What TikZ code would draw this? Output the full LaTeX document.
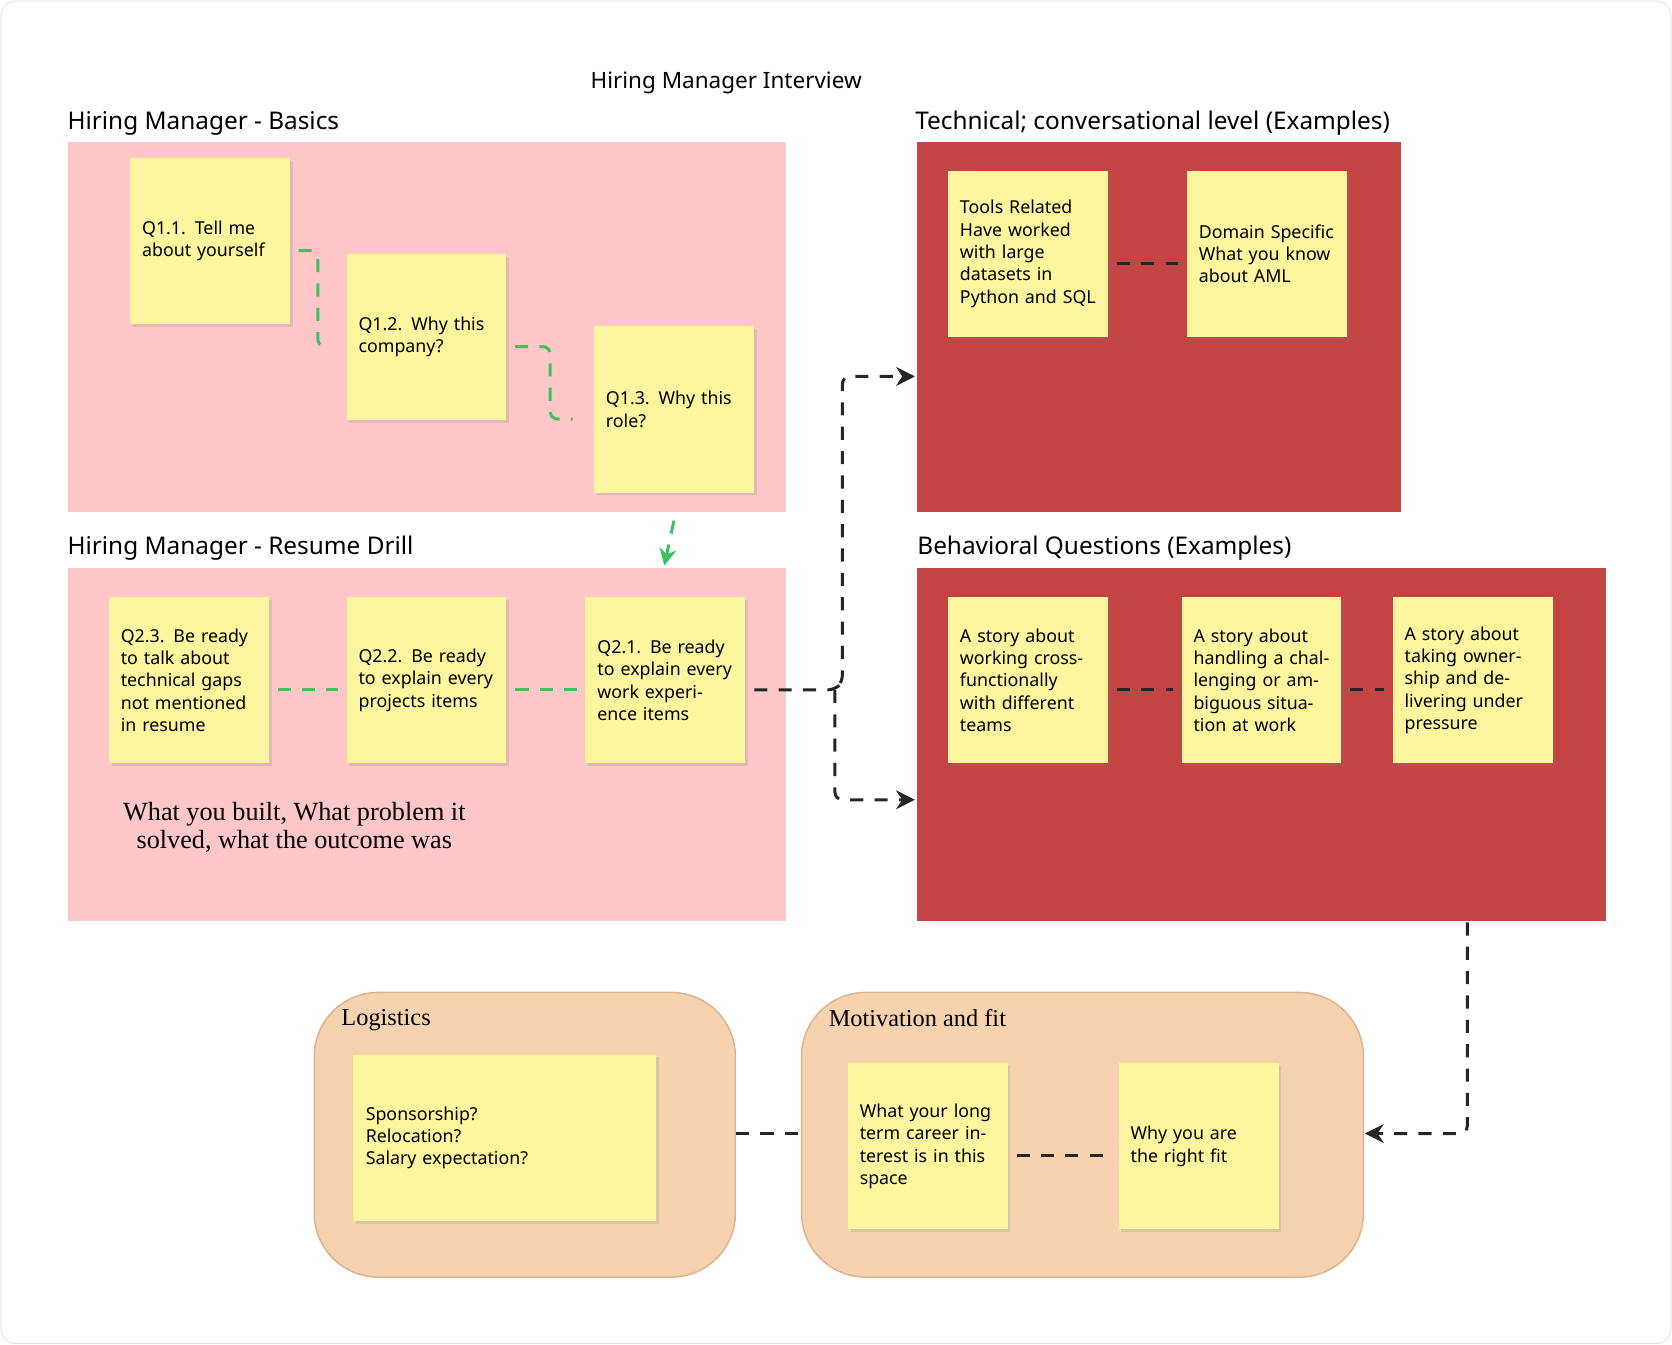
\documentclass[tikz,border=0pt]{standalone}
\usepackage{fontspec}
\setmainfont{Noto Sans}
\newfontfamily\serifnote{Liberation Serif}
\usetikzlibrary{calc,shadows,arrows.meta}
\definecolor{pinkframe}{HTML}{FFC7C7}
\definecolor{redframe}{HTML}{C44343}
\definecolor{sticky}{HTML}{FEF59F}
\definecolor{peach}{HTML}{F6D3AE}
\definecolor{peachline}{HTML}{DDB48E}
\definecolor{greenlink}{HTML}{3CC060}
\tikzset{
  note/.style = {fill = sticky, minimum width = 3cm, minimum height = 3.12cm,
                 text width = 2.55cm, align = left, font = \fontsize{9.5}{11.9}\selectfont,
                 drop shadow = {opacity = 0.2, shadow xshift = 1.5pt, shadow yshift = -1.5pt}},
  frame/.style = {anchor = north west, inner sep = 0pt},
  framelabel/.style = {anchor = south west, inner sep = 0pt, font = \fontsize{13}{15}\selectfont},
  group/.style = {draw = peachline, fill = peach, rounded corners = 1.2cm, line width = 0.8pt,
                  anchor = north west, inner sep = 0pt},
  greendash/.style = {draw = greenlink, dashed, line width = 1.6pt, dash pattern = on 7pt off 6pt, rounded corners = 4pt},
  blackdash/.style = {draw = black!85, line width = 1.6pt, dash pattern = on 7pt off 6pt, rounded corners = 4pt}
}
\begin{document}
\begin{tikzpicture}[x = 0.02cm, y = -0.02cm]
  \useasboundingbox (0, 0) rectangle (1568, 1261);
  \draw[black!12, rounded corners = 8pt] (1, 1) rectangle (1567, 1260);
  \node[font = \bfseries\fontsize{12}{14}\selectfont] (title) at (681, 78) {Hiring Manager Interview};

  % frames
  \node[frame, fill = pinkframe, minimum width = 13.48cm, minimum height = 6.94cm] (basics) at (63, 133) {};
  \node[framelabel] (basicslbl) at (63, 127) {Hiring Manager - Basics};
  \node[frame, fill = pinkframe, minimum width = 13.48cm, minimum height = 6.62cm] (resume) at (63, 532) {};
  \node[framelabel] (resumelbl) at (63, 526) {Hiring Manager - Resume Drill};
  \node[frame, fill = redframe, minimum width = 9.08cm, minimum height = 6.94cm] (tech) at (860, 133) {};
  \node[framelabel] (techlbl) at (858, 127) {Technical; conversational level (Examples)};
  \node[frame, fill = redframe, minimum width = 12.92cm, minimum height = 6.62cm] (behav) at (860, 532) {};
  \node[framelabel] (behavlbl) at (860, 526) {Behavioral Questions (Examples)};
  \node[group, minimum width = 7.9cm, minimum height = 5.34cm] (logis) at (294, 930) {};
  \node[anchor = north west, font = \serifnote\fontsize{13}{15}\selectfont] (logislbl) at (314, 940) {Logistics};
  \node[group, minimum width = 10.54cm, minimum height = 5.34cm] (motiv) at (751, 930) {};
  \node[anchor = north west, font = \serifnote\fontsize{13}{15}\selectfont] (motivlbl) at (771, 940) {Motivation and fit};

  % basics notes
  \node[note] (q11) at (197, 226) {Q1.1. Tell me about yourself};
  \node[note] (q12) at (400, 316) {Q1.2. Why this company?};
  \node[note] (q13) at (632, 384) {Q1.3. Why this role?};
  \draw[greendash] (280, 235) -- (298, 235) -- (298, 325) -- (308, 325);
  \draw[greendash] (483, 325) -- (516, 325) -- (516, 393) -- (537, 393);
  \draw[greendash, -{Stealth[length = 9pt, width = 9pt]}] ($(q13.south)+(0, 26)$) -- ($(q13.south)+(-9, 68)$);

  % resume notes
  \node[note] (q23) at (177, 638) {Q2.3. Be ready to talk about technical gaps not mentioned in resume};
  \node[note] (q22) at (400, 638) {Q2.2. Be ready to explain every projects items};
  \node[note] (q21) at (624, 638) {Q2.1. Be ready to explain every work experience items};
  \draw[greendash] ($(q23.east)+(8, 9)$) -- ($(q22.west)+(-8, 9)$);
  \draw[greendash] ($(q22.east)+(8, 9)$) -- ($(q21.west)+(-8, 9)$);
  \node[align = center, font = \serifnote\fontsize{14}{15}\selectfont] (built) at (276, 776)
    {What you built, What problem it\\solved, what the outcome was};

  % technical notes
  \node[note] (tools) at (964, 238) {\textbf{Tools Related}\\Have worked with large datasets in Python and SQL};
  \node[note] (domain) at (1188, 238) {\textbf{Domain Specific}\\What you know about AML};
  \draw[blackdash] ($(tools.east)+(8, 9)$) -- ($(domain.west)+(-8, 9)$);

  % behavioral notes
  \node[note] (b1) at (964, 638) {A story about working cross-functionally with different teams};
  \node[note] (b2) at (1183, 638) {A story about handling a challenging or ambiguous situation at work};
  \node[note] (b3) at (1381, 638) {A story about taking ownership and delivering under pressure};
  \draw[blackdash] ($(b1.east)+(8, 9)$) -- ($(b2.west)+(-8, 9)$);
  \draw[blackdash] ($(b2.east)+(8, 9)$) -- ($(b3.west)+(-8, 9)$);

  % logistics and motivation notes
  \node[note, minimum width = 5.68cm, text width = 5.2cm] (spons) at (473, 1067) {Sponsorship?\\Relocation?\\Salary expectation?};
  \node[note] (m1) at (870, 1075) {What your long term career interest is in this space};
  \node[note] (m2) at (1124, 1075) {Why you are the right fit};
  \draw[blackdash] ($(m1.east)+(8, 9)$) -- ($(m2.west)+(-8, 9)$);

  % flow between frames
  \coordinate (split) at (783, 647);
  \draw[blackdash, -{Stealth[length = 10pt, width = 10pt]}] ($(q21.east)+(8, 9)$) -- (split) -- (790, 640) -- (790, 353) -- (858, 353);
  \draw[blackdash, -{Stealth[length = 10pt, width = 10pt]}] (split) -- (783, 750) -- (858, 750);
  \draw[blackdash, -{Stealth[length = 10pt, width = 10pt]}] (1376, 865) -- (1376, 1063) -- (1280, 1063);
  \draw[blackdash] (logis.east |- 0, 1063) -- (motiv.west |- 0, 1063);
\end{tikzpicture}
\end{document}
